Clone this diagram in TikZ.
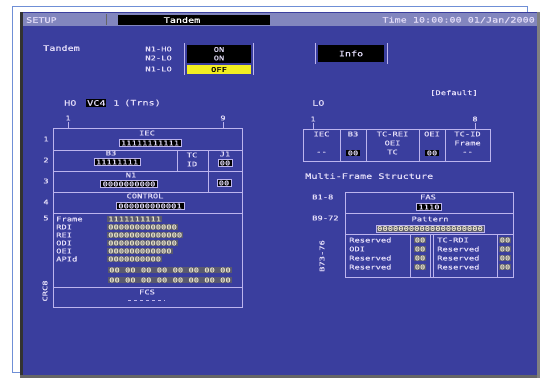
\documentclass[tikz,border=0pt]{standalone}
\usepackage{fontspec}
\newfontfamily\scrfont[FakeStretch=1.35,FakeBold=0.6]{DejaVu Sans Mono}
\definecolor{scrbg}{HTML}{3A3E9E}
\definecolor{scrbar}{HTML}{8286BE}
\definecolor{scrtxt}{HTML}{E2DCF8}
\definecolor{scrline}{HTML}{BCB4EE}
\definecolor{scrdot}{HTML}{5A5A6E}
\definecolor{scryel}{HTML}{F2EE22}
\definecolor{pageline}{HTML}{6F8FD6}
\tikzset{
  lbl/.style={font=\scrfont\fontsize{7.5}{8}\selectfont,text=scrtxt,inner sep=0pt},
  tbl/.style={lbl,font=\scrfont\fontsize{6.5}{7}\selectfont},
  inv/.style={tbl,fill=black,inner xsep=2pt,inner ysep=1pt},
  val/.style={inv,draw=scrline,line width=0.4pt},
  dotbox/.style={tbl,fill=scrdot,text=scrtxt!80!yellow,inner xsep=1pt,inner ysep=0.8pt},
  grid/.style={draw=scrline,line width=0.9pt},
}
\begin{document}
\begin{tikzpicture}[x=1pt,y=-1pt]
\useasboundingbox (0,0) rectangle (543,380);
\fill[white] (0,0) rectangle (543,380);
% page frame behind the screen
\draw[pageline,line width=0.7pt] (20,372) -- (12,372) -- (12,6) -- (527,6) -- (527,13);
% screen
\fill[scrbg] (20,12) rectangle (540,378);
\fill[black!80] (20,12) rectangle (23,378);
\fill[black!60] (20,375) rectangle (540,378);
\fill[black!50] (537,12) rectangle (540,378);
% title bar
\fill[scrbar] (23,13) rectangle (537,26);
\fill[black] (118,15) rectangle (270,25);
\draw[black!60] (106,14) -- (106,25);
\node[lbl,anchor=west] (setup) at (26,20) {SETUP};
\node[lbl,text=white] (title) at (182,20) {Tandem};
\node[lbl,anchor=east] (clock) at (535,20) {Time 10:00:00 01/Jan/2000};
% selection
\node[lbl,anchor=west] (tandem) at (43,48) {Tandem};
\node[tbl,anchor=east] (mode1) at (172,49) {N1-HO};
\node[tbl,anchor=east] (mode2) at (172,58) {N2-LO};
\node[tbl,anchor=east] (mode3) at (172,69) {N1-LO};
\draw[scrline] (184,43) -- (184,75) (253,43) -- (253,75);
\fill[black] (187,45) rectangle (251,63);
\fill[scryel] (187,65) rectangle (251,74);
\node[tbl] (sel1) at (219,49.5) {ON};
\node[tbl] (sel2) at (219,58) {ON};
\node[tbl,text=black] (sel3) at (219,69.5) {OFF};
\draw[scrline] (315,43) -- (315,64) (387,43) -- (387,64);
\fill[black] (318,45) rectangle (384,62);
\node[lbl] (info) at (351,53.5) {Info};
\node[tbl,anchor=west] (default) at (430,93) {[Default]};
% HO header
\node[lbl,anchor=west] (ho) at (64,103) {HO};
\node[lbl,fill=black,anchor=west,inner xsep=1pt,inner ysep=1pt] (hovc) at (86,103) {VC4};
\node[lbl,anchor=west] (hoch) at (113,103) {1};
\node[lbl,anchor=west] (homode) at (124,103) {(Trns)};
\node[lbl,anchor=west] (lo) at (312,103) {LO};
% HO table
\draw[grid] (53,128) rectangle (242,307);
\foreach \y in {150,171,192,213,287} \draw[grid] (53,\y) -- (242,\y);
\draw[grid] (177,150) -- (177,171);
\draw[grid] (208,150) -- (208,192);
\node[tbl] (lcol1) at (68,118) {1};
\draw[scrline] (68,122) -- (68,128);
\node[tbl] (lcol9) at (223,118) {9};
\draw[scrline] (223,122) -- (223,128);
\foreach \n/\y in {1/139,2/160,3/181,4/202,5/218} \node[tbl] (lrow\n) at (46,\y) {\n};
\node[tbl] (iec) at (147,133) {IEC};
\node[val] (iecval) at (150,143) {11111111111};
\node[tbl] (b3) at (111,153) {B3};
\node[val] (b3val) at (117,162) {11111111};
\node[tbl] (tc) at (192,155) {TC};
\node[tbl] (id) at (192,164) {ID};
\node[tbl] (j1) at (225,154) {J1};
\node[val] (j1val) at (225,163) {00};
\node[tbl] (n1) at (131,175) {N1};
\node[val] (n1val) at (129,184) {0000000000};
\node[val] (n2val) at (224,183) {00};
\node[tbl] (ctrl) at (145,196) {CONTROL};
\node[val] (ctrlval) at (150,206) {000000000001};
\foreach \lab/\y/\txt [count=\i] in {Frame/219/1111111111,RDI/227/0000000000000,REI/235/00000000000000,ODI/243/0000000000000,OEI/251/000000000000,APId/259/0000000000} {
  \node[tbl,anchor=west] (lab\i) at (56,\y) {\lab};
  \node[dotbox,anchor=west] (hex\i) at (107,\y) {\txt};
}
\node[dotbox,anchor=west] (hex7) at (108,270) {00 00 00 00 00 00 00 00};
\node[dotbox,anchor=west] (hex8) at (108,280) {00 00 00 00 00 00 00 00};
\node[tbl,rotate=90] (crc) at (45,291) {CRC8};
\node[tbl] (fcs) at (147,292) {FCS};
\draw[scrline,dashed] (128,300) -- (165,300);
% LO table
\draw[grid] (303,129) rectangle (490,161);
\foreach \x in {340,366,419,445} \draw[grid] (\x,129) -- (\x,161);
\node[tbl] (rcol1) at (313,119) {1};
\draw[scrline] (313,123) -- (313,129);
\node[tbl] (rcol8) at (475,119) {8};
\draw[scrline] (475,123) -- (475,129);
\node[tbl] (c1a) at (321.5,134) {IEC};
\node[tbl] (c1b) at (321.5,153) {--};
\node[tbl] (c2a) at (353,134) {B3};
\node[inv] (c2b) at (353,153) {00};
\node[tbl] (c3a) at (392.5,134) {TC-REI};
\node[tbl] (c3b) at (392.5,143) {OEI};
\node[tbl] (c3c) at (392.5,152) {TC};
\node[tbl] (c4a) at (432,134) {OEI};
\node[inv] (c4b) at (432,153) {00};
\node[tbl] (c5a) at (467.5,134) {TC-ID};
\node[tbl] (c5b) at (467.5,143) {Frame};
\node[tbl] (c5c) at (467.5,153) {--};
% multi-frame
\node[lbl,anchor=west] (mfs) at (305,176) {Multi-Frame Structure};
\draw[grid] (345,192) rectangle (513,277);
\draw[grid] (345,213) -- (513,213) (345,234) -- (513,234);
\draw[grid] (410,234) -- (410,277) (430,234) -- (430,277) (433,234) -- (433,277) (497,234) -- (497,277);
\node[tbl,anchor=west] (mf1) at (312,197) {B1-8};
\node[tbl,anchor=west] (mf2) at (312,218) {B9-72};
\node[tbl,rotate=90] (mf3) at (322,256) {B73-76};
\node[tbl] (fas) at (428,197) {FAS};
\node[val] (fasval) at (429,207) {1110};
\node[tbl] (pat) at (430,219) {Pattern};
\node[dotbox,draw=scrline,line width=0.4pt] (patval) at (430,228.5) {00000000000000000000};
\foreach \l/\r/\y in {Reserved/TC-RDI/240,ODI/Reserved/249,Reserved/Reserved/258,Reserved/Reserved/267} {
  \node[tbl,anchor=west] (ml\y) at (349,\y) {\l};
  \node[dotbox] (md\y) at (420,\y) {00};
  \node[tbl,anchor=west] (mr\y) at (437,\y) {\r};
  \node[dotbox] (me\y) at (505,\y) {00};
}
\end{tikzpicture}
\end{document}
